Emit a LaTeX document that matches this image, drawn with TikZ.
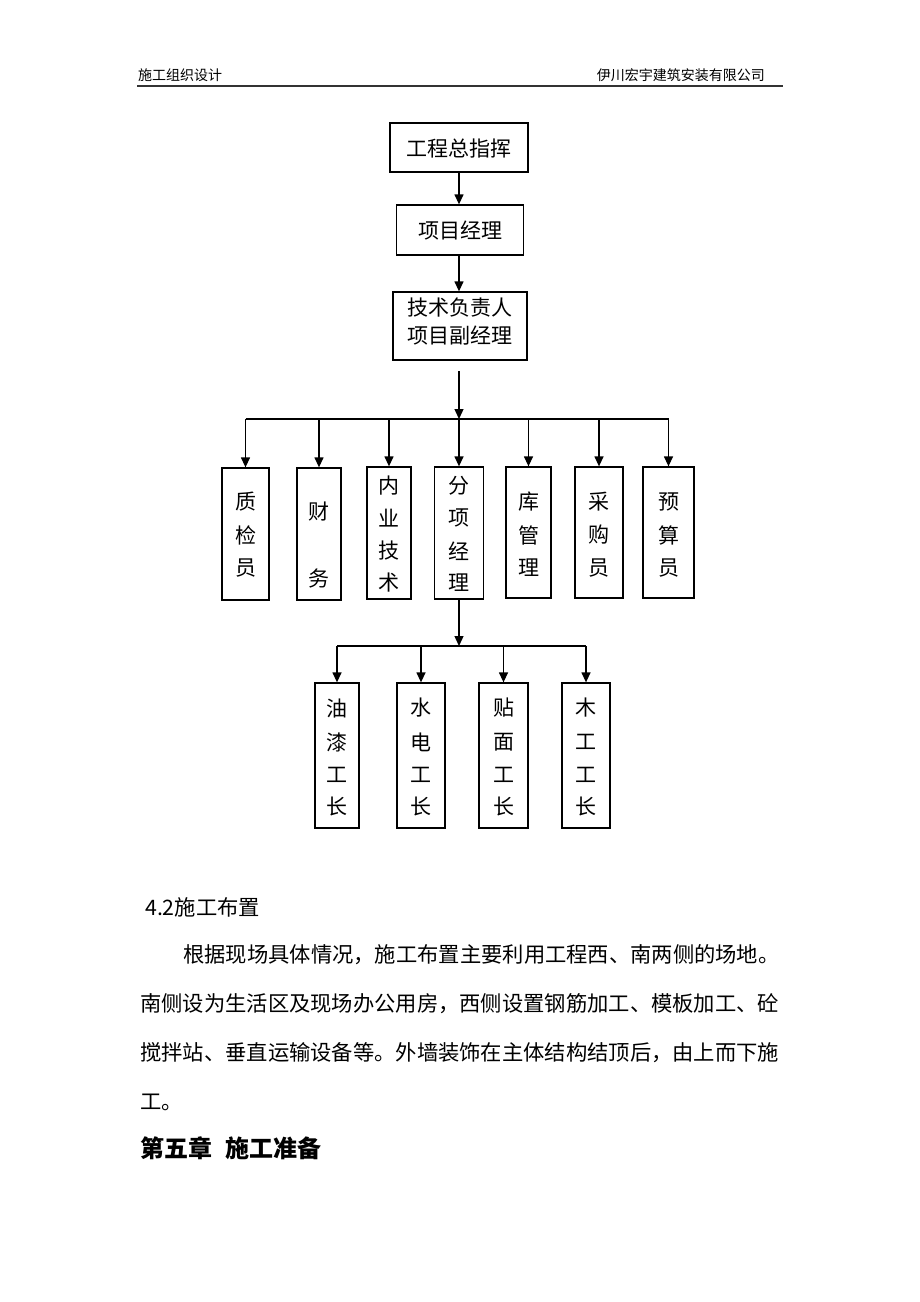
\documentclass[tikz,border=0pt]{standalone}
\usepackage{fontspec}
\setmainfont{Noto Sans CJK SC}
\usetikzlibrary{arrows.meta,calc}
\begin{document}
\begin{tikzpicture}[x=1pt,y=-1pt,
  box/.style={draw,line width=1.3pt,inner sep=0pt,fill=white},
  arr/.style={line width=1.3pt,-{Triangle[length=10pt,width=9pt]}},
  ln/.style={line width=1.3pt},
  bt/.style={font=\fontsize{21}{21}\selectfont,inner sep=0pt,anchor=center},
  para/.style={font=\fontsize{21.3}{21.3}\selectfont,inner sep=0pt,anchor=west},
  hdr/.style={font=\fontsize{14}{14}\selectfont,inner sep=0pt}]
\useasboundingbox[fill=white] (0,0) rectangle (920,1302);
% header
\node[hdr,anchor=west] (h1) at (138,75) {施工组织设计};
\node[hdr,anchor=east] (h2) at (765,75) {伊川宏宇建筑安装有限公司};
\draw[line width=2pt,black!80] (137,85.5) -- (783,85.5);
% top boxes
\node[box,minimum width=138pt,minimum height=49pt] (b1) at (459,147.5) {};
\node[bt] (t1) at (459,149) {工程总指挥};
\node[box,minimum width=127pt,minimum height=50pt] (b2) at (460,230) {};
\node[bt] (t2) at (460,231) {项目经理};
\node[box,minimum width=134pt,minimum height=68pt] (b3) at (460,326) {};
\node[bt] (t3a) at (460,308) {技术负责人};
\node[bt] (t3b) at (460,336) {项目副经理};
\draw[arr] (b1.south) -- (b2.north -| b1.south);
\draw[arr] (b2.south -| b1.south) -- (b3.north -| b1.south);
% level 2 boxes
\node[box,minimum width=47pt,minimum height=132pt] (c1) at (245.5,534) {};
\node[box,minimum width=44pt,minimum height=132pt] (c2) at (319,534) {};
\node[box,minimum width=44pt,minimum height=132pt] (c3) at (389,533) {};
\node[box,minimum width=49pt,minimum height=132pt] (c4) at (459,533) {};
\node[box,minimum width=45pt,minimum height=131pt] (c5) at (528.5,532.5) {};
\node[box,minimum width=48pt,minimum height=131pt] (c6) at (599,532.5) {};
\node[box,minimum width=51pt,minimum height=131pt] (c7) at (668.5,532.5) {};
\node[bt] (c1a) at (245.5,502) {质};
\node[bt] (c1b) at (245.5,535) {检};
\node[bt] (c1c) at (245.5,568) {员};
\node[bt] (c2a) at (319,512) {财};
\node[bt] (c2b) at (319,578) {务};
\node[bt] (c3a) at (389,486) {内};
\node[bt] (c3b) at (389,518) {业};
\node[bt] (c3c) at (389,551) {技};
\node[bt] (c3d) at (389,583) {术};
\node[bt] (c4a) at (459,486) {分};
\node[bt] (c4b) at (459,518) {项};
\node[bt] (c4c) at (459,551) {经};
\node[bt] (c4d) at (459,583) {理};
\node[bt] (c5a) at (528.5,502) {库};
\node[bt] (c5b) at (528.5,535) {管};
\node[bt] (c5c) at (528.5,568) {理};
\node[bt] (c6a) at (599,502) {采};
\node[bt] (c6b) at (599,535) {购};
\node[bt] (c6c) at (599,568) {员};
\node[bt] (c7a) at (668.5,502) {预};
\node[bt] (c7b) at (668.5,535) {算};
\node[bt] (c7c) at (668.5,568) {员};
\coordinate (s1) at (459,371);
\coordinate (j1) at (459,419);
\draw[arr] (s1) -- (j1);
\draw[ln] (c1.north |- j1) -- (c7.north |- j1);
\foreach \b in {c1,c2,c3,c4,c5,c6,c7}{
  \draw[arr] (\b.north |- j1) -- (\b.north);
}
% level 3 boxes
\node[box,minimum width=44pt,minimum height=145pt] (d1) at (337,755.5) {};
\node[box,minimum width=48pt,minimum height=145pt] (d2) at (421,755.5) {};
\node[box,minimum width=49pt,minimum height=145pt] (d3) at (503.5,755.5) {};
\node[box,minimum width=48pt,minimum height=145pt] (d4) at (586,755.5) {};
\foreach \b/\p/\q/\r/\s in {d1/油/漆/工/长,d2/水/电/工/长,d3/贴/面/工/长,d4/木/工/工/长}{
  \node[bt] (\b a) at ($(\b.center)+(0,-47.5)$) {\p};
  \node[bt] (\b b) at ($(\b.center)+(0,-13.5)$) {\q};
  \node[bt] (\b c) at ($(\b.center)+(0,19.5)$) {\r};
  \node[bt] (\b d) at ($(\b.center)+(0,50.5)$) {\s};
}
\coordinate (j2) at (459,646);
\draw[arr] (c4.south) -- (j2);
\draw[ln] (d1.north |- j2) -- (d4.north |- j2);
\foreach \b in {d1,d2,d3,d4}{
  \draw[arr] (\b.north |- j2) -- (\b.north);
}
% text
\node[para] (p0) at (145,907) {4.2施工布置};
\node[para] (p1) at (183,955) {根据现场具体情况，施工布置主要利用工程西、南两侧的场地。};
\node[para] (p2) at (140,1004) {南侧设为生活区及现场办公用房，西侧设置钢筋加工、模板加工、砼};
\node[para] (p3) at (140,1053) {搅拌站、垂直运输设备等。外墙装饰在主体结构结顶后，由上而下施};
\node[para] (p4) at (140,1102) {工。};
\node[anchor=west,inner sep=0pt,font=\fontsize{24}{24}\selectfont\bfseries] (p5) at (140,1148) {第五章\hspace{13pt}施工准备};
\end{tikzpicture}
\end{document}
